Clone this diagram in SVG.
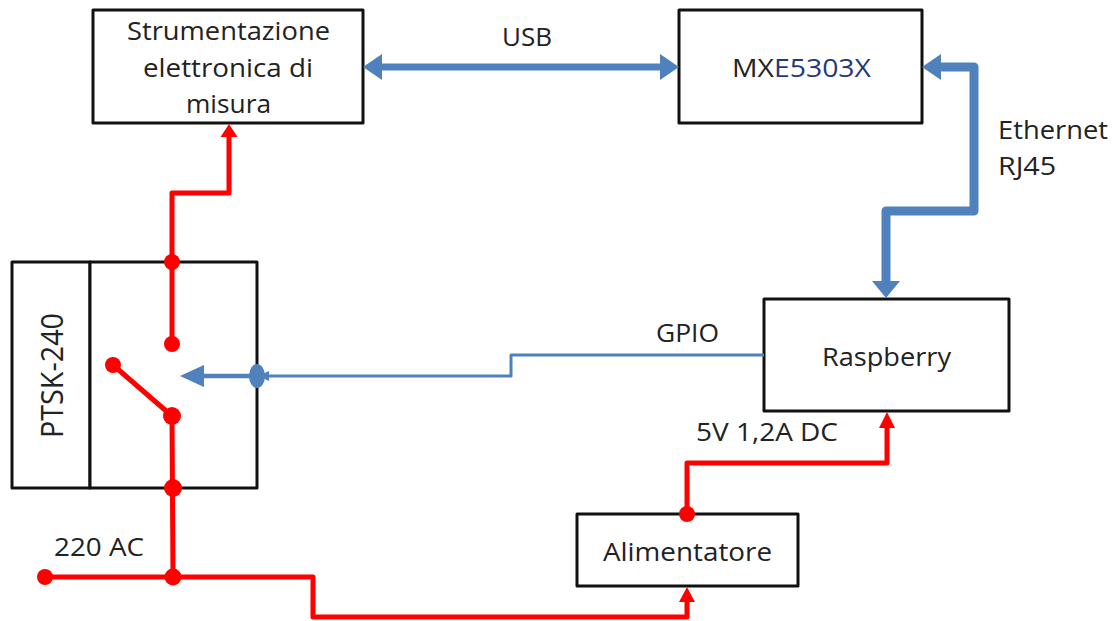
<svg xmlns="http://www.w3.org/2000/svg" width="1112" height="621" viewBox="0 0 1112 621">
<defs><style>
.box{fill:#fff;stroke:#111;stroke-width:3;stroke-linejoin:round}
text{font-family:"Open Sans","Liberation Sans",sans-serif;font-size:25px;fill:#222}
.red{fill:none;stroke:#f00;stroke-width:5;stroke-linejoin:round}
.blue{fill:none;stroke:#4f81bd;stroke-linejoin:round}
.rf{fill:#f00}.bf{fill:#4f81bd}
</style></defs>
<rect width="1112" height="621" fill="#fff"/>
<g id="strumentazione"><rect class="box" x="93" y="10" width="270" height="113"/>
<text x="127" y="40" textLength="203" lengthAdjust="spacingAndGlyphs">Strumentazione</text><text x="143" y="77" textLength="170" lengthAdjust="spacingAndGlyphs">elettronica di</text><text x="186" y="113" textLength="85" lengthAdjust="spacingAndGlyphs">misura</text></g>
<g id="mxe5303x"><rect class="box" x="679" y="10" width="243" height="113"/>
<text x="732" y="77" textLength="139" lengthAdjust="spacingAndGlyphs">MX<tspan fill="#1f3a7a">E5303X</tspan></text></g>
<g id="raspberry"><rect class="box" x="764" y="299" width="245" height="112"/><text x="822" y="366" textLength="129" lengthAdjust="spacingAndGlyphs">Raspberry</text></g>
<g id="alimentatore"><rect class="box" x="577" y="514" width="221" height="72"/><text x="603" y="561" textLength="169" lengthAdjust="spacingAndGlyphs">Alimentatore</text></g>
<g id="ptsk-240"><rect class="box" x="12" y="262" width="78" height="226"/><rect class="box" x="90" y="262" width="167" height="226"/>
<text transform="translate(63 438) rotate(-90)" style="font-size:31px" textLength="125" lengthAdjust="spacingAndGlyphs">PTSK-240</text></g>
<g id="connectors">
<path class="blue" stroke-width="7" d="M380 67H662"/>
<polygon class="bf" points="363,67 382,54 382,80"/><polygon class="bf" points="679,67 660,54 660,80"/>
<path class="blue" stroke-width="9" d="M940 67H974V211H886V282"/>
<polygon class="bf" points="922,67 941,54 941,80"/><polygon class="bf" points="886,298 872,281 900,281"/>
<path class="blue" stroke-width="3" d="M764 355H511V376H260"/>
<path class="blue" stroke-width="4.5" d="M204 376H257"/>
<polygon class="bf" points="180,376 204,365 204,387"/><ellipse class="bf" cx="257" cy="376" rx="8" ry="12"/><polygon class="bf" points="258,376 269,371 269,381"/>
<path class="red" d="M172 262V193H229V136"/><polygon class="rf" points="229,124 220.500,137 237.500,137"/>
<path class="red" d="M172 262V344"/><path class="red" d="M113 365L172 416L173 577"/>
<path class="red" d="M45 577H313V617H687V600"/><polygon class="rf" points="687,587 679,602 695,602"/>
<path class="red" d="M687 514V463H887V426"/><polygon class="rf" points="887,412 879,428 895,428"/>
<g class="rf"><circle cx="172" cy="262" r="8"/><circle cx="172" cy="344" r="8"/><circle cx="113" cy="365" r="8"/><circle cx="172" cy="416" r="9"/><circle cx="173" cy="488" r="9"/><circle cx="173" cy="577" r="8.500"/><circle cx="45" cy="577" r="8"/><circle cx="687" cy="514" r="8"/></g>
</g>
<g id="labels">
<text x="502" y="46" textLength="50" lengthAdjust="spacingAndGlyphs">USB</text><text x="998" y="139" textLength="110" lengthAdjust="spacingAndGlyphs">Ethernet</text><text x="998" y="175" textLength="58" lengthAdjust="spacingAndGlyphs">RJ45</text>
<text x="656" y="342" textLength="63" lengthAdjust="spacingAndGlyphs">GPIO</text><text x="696" y="441" textLength="142" lengthAdjust="spacingAndGlyphs">5V 1,2A DC</text><text x="54" y="556" textLength="90" lengthAdjust="spacingAndGlyphs">220 AC</text>
</g>
</svg>
